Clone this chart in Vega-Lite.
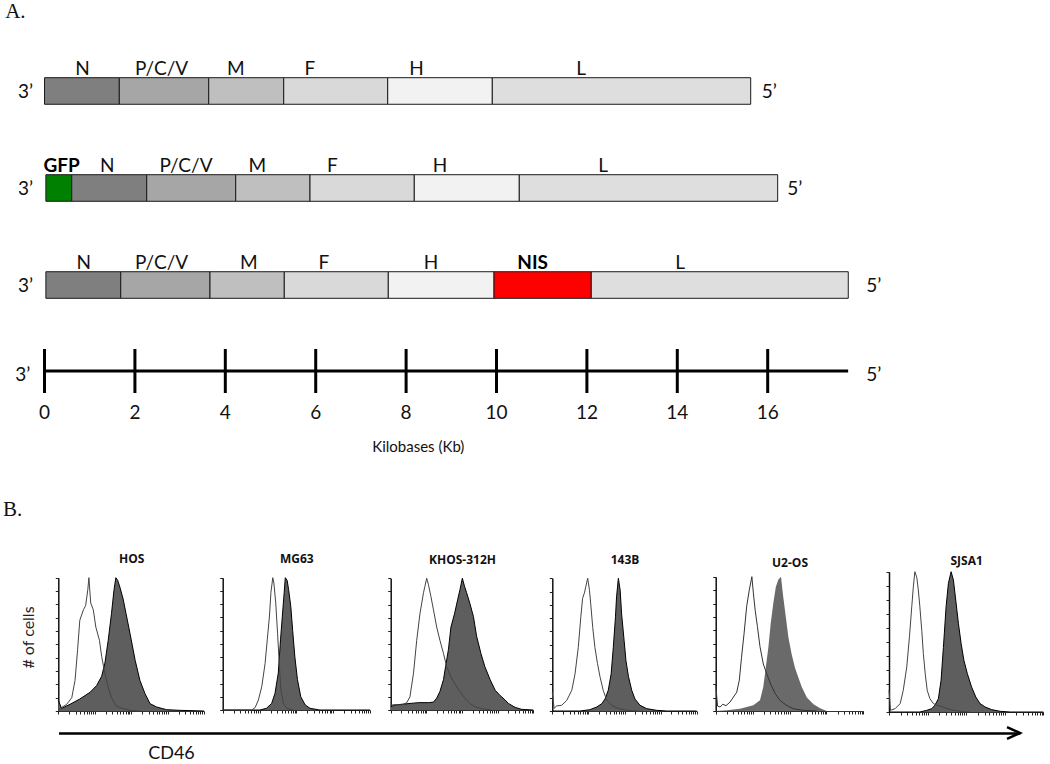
{
  "$schema": "https://vega.github.io/schema/vega-lite/v6.json",
  "width": 1050,
  "height": 764,
  "autosize": "none",
  "padding": 0,
  "background": "white",
  "config": {"view": {"stroke": null}, "text": {"font": "Lato", "color": "#111"}},
  "resolve": {
    "scale": {"x": "independent", "y": "independent", "color": "independent"},
    "axis": {"x": "independent", "y": "independent"}
  },
  "datasets": {
    "segments": [
      {"construct": "MV", "gene": "N", "start": 0, "end": 1.655},
      {"construct": "MV", "gene": "P/C/V", "start": 1.655, "end": 3.633},
      {"construct": "MV", "gene": "M", "start": 3.633, "end": 5.292},
      {"construct": "MV", "gene": "F", "start": 5.292, "end": 7.593},
      {"construct": "MV", "gene": "H", "start": 7.593, "end": 9.907},
      {"construct": "MV", "gene": "L", "start": 9.907, "end": 15.624},
      {"construct": "MV-GFP", "gene": "GFP", "start": 0.03, "end": 0.602},
      {"construct": "MV-GFP", "gene": "N", "start": 0.602, "end": 2.261},
      {"construct": "MV-GFP", "gene": "P/C/V", "start": 2.261, "end": 4.23},
      {"construct": "MV-GFP", "gene": "M", "start": 4.23, "end": 5.874},
      {"construct": "MV-GFP", "gene": "F", "start": 5.874, "end": 8.181},
      {"construct": "MV-GFP", "gene": "H", "start": 8.181, "end": 10.504},
      {"construct": "MV-GFP", "gene": "L", "start": 10.504, "end": 16.221},
      {"construct": "MV-NIS", "gene": "N", "start": 0.03, "end": 1.686},
      {"construct": "MV-NIS", "gene": "P/C/V", "start": 1.686, "end": 3.661},
      {"construct": "MV-NIS", "gene": "M", "start": 3.661, "end": 5.305},
      {"construct": "MV-NIS", "gene": "F", "start": 5.305, "end": 7.606},
      {"construct": "MV-NIS", "gene": "H", "start": 7.606, "end": 9.945},
      {"construct": "MV-NIS", "gene": "NIS", "start": 9.945, "end": 12.097},
      {"construct": "MV-NIS", "gene": "L", "start": 12.097, "end": 17.783}
    ],
    "geneLabels": [
      {"construct": "MV", "gene": "N", "kb": 0.84},
      {"construct": "MV", "gene": "P/C/V", "kb": 2.59},
      {"construct": "MV", "gene": "M", "kb": 4.23},
      {"construct": "MV", "gene": "F", "kb": 5.87},
      {"construct": "MV", "gene": "H", "kb": 8.23},
      {"construct": "MV", "gene": "L", "kb": 11.87},
      {"construct": "MV-GFP", "gene": "GFP", "kb": 0.38},
      {"construct": "MV-GFP", "gene": "N", "kb": 1.39},
      {"construct": "MV-GFP", "gene": "P/C/V", "kb": 3.13},
      {"construct": "MV-GFP", "gene": "M", "kb": 4.71},
      {"construct": "MV-GFP", "gene": "F", "kb": 6.37},
      {"construct": "MV-GFP", "gene": "H", "kb": 8.75},
      {"construct": "MV-GFP", "gene": "L", "kb": 12.36},
      {"construct": "MV-NIS", "gene": "N", "kb": 0.87},
      {"construct": "MV-NIS", "gene": "P/C/V", "kb": 2.59},
      {"construct": "MV-NIS", "gene": "M", "kb": 4.52},
      {"construct": "MV-NIS", "gene": "F", "kb": 6.18},
      {"construct": "MV-NIS", "gene": "H", "kb": 8.55},
      {"construct": "MV-NIS", "gene": "NIS", "kb": 10.8},
      {"construct": "MV-NIS", "gene": "L", "kb": 14.06}
    ],
    "ends": [
      {"construct": "MV", "end": "3’", "kb": -0.586},
      {"construct": "MV", "end": "5’", "kb": 15.87},
      {"construct": "MV-GFP", "end": "3’", "kb": -0.586},
      {"construct": "MV-GFP", "end": "5’", "kb": 16.43},
      {"construct": "MV-NIS", "end": "3’", "kb": -0.586},
      {"construct": "MV-NIS", "end": "5’", "kb": 18.18}
    ],
    "flow": [
      {"cell":"HOS","stain":"CD46","logFL":0,"pct":8},{"cell":"HOS","stain":"CD46","logFL":0.09,"pct":2},{"cell":"HOS","stain":"CD46","logFL":0.32,"pct":5},{"cell":"HOS","stain":"CD46","logFL":0.59,"pct":9},{"cell":"HOS","stain":"CD46","logFL":0.87,"pct":14},{"cell":"HOS","stain":"CD46","logFL":1.05,"pct":19},{"cell":"HOS","stain":"CD46","logFL":1.19,"pct":26},{"cell":"HOS","stain":"CD46","logFL":1.28,"pct":36},{"cell":"HOS","stain":"CD46","logFL":1.37,"pct":53},{"cell":"HOS","stain":"CD46","logFL":1.46,"pct":73},{"cell":"HOS","stain":"CD46","logFL":1.53,"pct":91},{"cell":"HOS","stain":"CD46","logFL":1.58,"pct":100},{"cell":"HOS","stain":"CD46","logFL":1.63,"pct":98},{"cell":"HOS","stain":"CD46","logFL":1.69,"pct":93},{"cell":"HOS","stain":"CD46","logFL":1.78,"pct":84},{"cell":"HOS","stain":"CD46","logFL":1.86,"pct":73},{"cell":"HOS","stain":"CD46","logFL":1.97,"pct":58},{"cell":"HOS","stain":"CD46","logFL":2.11,"pct":38},{"cell":"HOS","stain":"CD46","logFL":2.24,"pct":23},{"cell":"HOS","stain":"CD46","logFL":2.38,"pct":13},{"cell":"HOS","stain":"CD46","logFL":2.52,"pct":5.5},{"cell":"HOS","stain":"CD46","logFL":2.7,"pct":3},{"cell":"HOS","stain":"CD46","logFL":2.97,"pct":1},{"cell":"HOS","stain":"CD46","logFL":3.34,"pct":0.5},{"cell":"HOS","stain":"CD46","logFL":4,"pct":0},
      {"cell":"HOS","stain":"Isotype","logFL":0,"pct":0},{"cell":"HOS","stain":"Isotype","logFL":0.05,"pct":2},{"cell":"HOS","stain":"Isotype","logFL":0.23,"pct":5},{"cell":"HOS","stain":"Isotype","logFL":0.37,"pct":10},{"cell":"HOS","stain":"Isotype","logFL":0.46,"pct":23},{"cell":"HOS","stain":"Isotype","logFL":0.53,"pct":46},{"cell":"HOS","stain":"Isotype","logFL":0.59,"pct":68},{"cell":"HOS","stain":"Isotype","logFL":0.69,"pct":76},{"cell":"HOS","stain":"Isotype","logFL":0.75,"pct":79},{"cell":"HOS","stain":"Isotype","logFL":0.81,"pct":91},{"cell":"HOS","stain":"Isotype","logFL":0.84,"pct":100},{"cell":"HOS","stain":"Isotype","logFL":0.89,"pct":81},{"cell":"HOS","stain":"Isotype","logFL":0.96,"pct":76},{"cell":"HOS","stain":"Isotype","logFL":1.03,"pct":63},{"cell":"HOS","stain":"Isotype","logFL":1.13,"pct":53},{"cell":"HOS","stain":"Isotype","logFL":1.19,"pct":41},{"cell":"HOS","stain":"Isotype","logFL":1.28,"pct":28},{"cell":"HOS","stain":"Isotype","logFL":1.37,"pct":18},{"cell":"HOS","stain":"Isotype","logFL":1.46,"pct":10},{"cell":"HOS","stain":"Isotype","logFL":1.58,"pct":4},{"cell":"HOS","stain":"Isotype","logFL":1.74,"pct":2},{"cell":"HOS","stain":"Isotype","logFL":1.97,"pct":0.5},{"cell":"HOS","stain":"Isotype","logFL":2.24,"pct":0},
      {"cell":"MG63","stain":"CD46","logFL":0,"pct":0},{"cell":"MG63","stain":"CD46","logFL":1.01,"pct":0},{"cell":"MG63","stain":"CD46","logFL":1.19,"pct":1.3},{"cell":"MG63","stain":"CD46","logFL":1.33,"pct":5},{"cell":"MG63","stain":"CD46","logFL":1.42,"pct":12.6},{"cell":"MG63","stain":"CD46","logFL":1.51,"pct":28},{"cell":"MG63","stain":"CD46","logFL":1.57,"pct":53},{"cell":"MG63","stain":"CD46","logFL":1.62,"pct":71},{"cell":"MG63","stain":"CD46","logFL":1.67,"pct":89},{"cell":"MG63","stain":"CD46","logFL":1.7,"pct":100},{"cell":"MG63","stain":"CD46","logFL":1.75,"pct":98},{"cell":"MG63","stain":"CD46","logFL":1.79,"pct":91},{"cell":"MG63","stain":"CD46","logFL":1.85,"pct":78},{"cell":"MG63","stain":"CD46","logFL":1.9,"pct":60},{"cell":"MG63","stain":"CD46","logFL":1.96,"pct":40},{"cell":"MG63","stain":"CD46","logFL":2.03,"pct":23},{"cell":"MG63","stain":"CD46","logFL":2.12,"pct":10},{"cell":"MG63","stain":"CD46","logFL":2.24,"pct":3.8},{"cell":"MG63","stain":"CD46","logFL":2.37,"pct":1.3},{"cell":"MG63","stain":"CD46","logFL":2.64,"pct":0},{"cell":"MG63","stain":"CD46","logFL":4,"pct":0},
      {"cell":"MG63","stain":"Isotype","logFL":0,"pct":0},{"cell":"MG63","stain":"Isotype","logFL":0.79,"pct":0},{"cell":"MG63","stain":"Isotype","logFL":0.88,"pct":1.8},{"cell":"MG63","stain":"Isotype","logFL":0.97,"pct":7.6},{"cell":"MG63","stain":"Isotype","logFL":1.06,"pct":17.6},{"cell":"MG63","stain":"Isotype","logFL":1.15,"pct":35},{"cell":"MG63","stain":"Isotype","logFL":1.21,"pct":53},{"cell":"MG63","stain":"Isotype","logFL":1.27,"pct":71},{"cell":"MG63","stain":"Isotype","logFL":1.31,"pct":89},{"cell":"MG63","stain":"Isotype","logFL":1.36,"pct":100},{"cell":"MG63","stain":"Isotype","logFL":1.39,"pct":96},{"cell":"MG63","stain":"Isotype","logFL":1.44,"pct":81},{"cell":"MG63","stain":"Isotype","logFL":1.49,"pct":58},{"cell":"MG63","stain":"Isotype","logFL":1.54,"pct":33},{"cell":"MG63","stain":"Isotype","logFL":1.58,"pct":15},{"cell":"MG63","stain":"Isotype","logFL":1.65,"pct":5},{"cell":"MG63","stain":"Isotype","logFL":1.74,"pct":1.3},{"cell":"MG63","stain":"Isotype","logFL":1.92,"pct":0},
      {"cell":"KHOS-312H","stain":"CD46","logFL":0,"pct":2.5},{"cell":"KHOS-312H","stain":"CD46","logFL":0.12,"pct":3.8},{"cell":"KHOS-312H","stain":"CD46","logFL":0.4,"pct":4.6},{"cell":"KHOS-312H","stain":"CD46","logFL":0.78,"pct":5.6},{"cell":"KHOS-312H","stain":"CD46","logFL":1.06,"pct":5.6},{"cell":"KHOS-312H","stain":"CD46","logFL":1.2,"pct":6},{"cell":"KHOS-312H","stain":"CD46","logFL":1.29,"pct":9},{"cell":"KHOS-312H","stain":"CD46","logFL":1.38,"pct":14},{"cell":"KHOS-312H","stain":"CD46","logFL":1.48,"pct":23},{"cell":"KHOS-312H","stain":"CD46","logFL":1.54,"pct":33},{"cell":"KHOS-312H","stain":"CD46","logFL":1.62,"pct":46},{"cell":"KHOS-312H","stain":"CD46","logFL":1.69,"pct":63},{"cell":"KHOS-312H","stain":"CD46","logFL":1.79,"pct":73},{"cell":"KHOS-312H","stain":"CD46","logFL":1.88,"pct":84},{"cell":"KHOS-312H","stain":"CD46","logFL":1.94,"pct":91},{"cell":"KHOS-312H","stain":"CD46","logFL":2.01,"pct":100},{"cell":"KHOS-312H","stain":"CD46","logFL":2.07,"pct":94},{"cell":"KHOS-312H","stain":"CD46","logFL":2.13,"pct":89},{"cell":"KHOS-312H","stain":"CD46","logFL":2.22,"pct":81},{"cell":"KHOS-312H","stain":"CD46","logFL":2.32,"pct":71},{"cell":"KHOS-312H","stain":"CD46","logFL":2.41,"pct":56},{"cell":"KHOS-312H","stain":"CD46","logFL":2.53,"pct":43},{"cell":"KHOS-312H","stain":"CD46","logFL":2.64,"pct":33},{"cell":"KHOS-312H","stain":"CD46","logFL":2.79,"pct":23},{"cell":"KHOS-312H","stain":"CD46","logFL":2.93,"pct":15},{"cell":"KHOS-312H","stain":"CD46","logFL":3.07,"pct":11},{"cell":"KHOS-312H","stain":"CD46","logFL":3.21,"pct":7.6},{"cell":"KHOS-312H","stain":"CD46","logFL":3.3,"pct":5},{"cell":"KHOS-312H","stain":"CD46","logFL":3.49,"pct":2},{"cell":"KHOS-312H","stain":"CD46","logFL":3.67,"pct":0.5},{"cell":"KHOS-312H","stain":"CD46","logFL":4,"pct":0},
      {"cell":"KHOS-312H","stain":"Isotype","logFL":0,"pct":3.8},{"cell":"KHOS-312H","stain":"Isotype","logFL":0.12,"pct":4},{"cell":"KHOS-312H","stain":"Isotype","logFL":0.31,"pct":3.8},{"cell":"KHOS-312H","stain":"Isotype","logFL":0.45,"pct":5.6},{"cell":"KHOS-312H","stain":"Isotype","logFL":0.54,"pct":10},{"cell":"KHOS-312H","stain":"Isotype","logFL":0.64,"pct":28},{"cell":"KHOS-312H","stain":"Isotype","logFL":0.73,"pct":53},{"cell":"KHOS-312H","stain":"Isotype","logFL":0.82,"pct":73},{"cell":"KHOS-312H","stain":"Isotype","logFL":0.92,"pct":89},{"cell":"KHOS-312H","stain":"Isotype","logFL":0.96,"pct":94},{"cell":"KHOS-312H","stain":"Isotype","logFL":1.01,"pct":100},{"cell":"KHOS-312H","stain":"Isotype","logFL":1.06,"pct":95},{"cell":"KHOS-312H","stain":"Isotype","logFL":1.13,"pct":86},{"cell":"KHOS-312H","stain":"Isotype","logFL":1.2,"pct":76},{"cell":"KHOS-312H","stain":"Isotype","logFL":1.29,"pct":63},{"cell":"KHOS-312H","stain":"Isotype","logFL":1.38,"pct":53},{"cell":"KHOS-312H","stain":"Isotype","logFL":1.48,"pct":43},{"cell":"KHOS-312H","stain":"Isotype","logFL":1.57,"pct":33},{"cell":"KHOS-312H","stain":"Isotype","logFL":1.69,"pct":25},{"cell":"KHOS-312H","stain":"Isotype","logFL":1.8,"pct":20},{"cell":"KHOS-312H","stain":"Isotype","logFL":1.94,"pct":14},{"cell":"KHOS-312H","stain":"Isotype","logFL":2.08,"pct":9},{"cell":"KHOS-312H","stain":"Isotype","logFL":2.22,"pct":5},{"cell":"KHOS-312H","stain":"Isotype","logFL":2.36,"pct":2.5},{"cell":"KHOS-312H","stain":"Isotype","logFL":2.55,"pct":1},{"cell":"KHOS-312H","stain":"Isotype","logFL":2.83,"pct":0},
      {"cell":"143B","stain":"CD46","logFL":0,"pct":0},{"cell":"143B","stain":"CD46","logFL":0.77,"pct":0},{"cell":"143B","stain":"CD46","logFL":1.04,"pct":1},{"cell":"143B","stain":"CD46","logFL":1.23,"pct":3},{"cell":"143B","stain":"CD46","logFL":1.37,"pct":5.5},{"cell":"143B","stain":"CD46","logFL":1.46,"pct":9},{"cell":"143B","stain":"CD46","logFL":1.55,"pct":15.6},{"cell":"143B","stain":"CD46","logFL":1.63,"pct":28},{"cell":"143B","stain":"CD46","logFL":1.69,"pct":48},{"cell":"143B","stain":"CD46","logFL":1.75,"pct":71},{"cell":"143B","stain":"CD46","logFL":1.78,"pct":86},{"cell":"143B","stain":"CD46","logFL":1.83,"pct":100},{"cell":"143B","stain":"CD46","logFL":1.88,"pct":91},{"cell":"143B","stain":"CD46","logFL":1.92,"pct":73},{"cell":"143B","stain":"CD46","logFL":1.99,"pct":53},{"cell":"143B","stain":"CD46","logFL":2.04,"pct":38},{"cell":"143B","stain":"CD46","logFL":2.11,"pct":26},{"cell":"143B","stain":"CD46","logFL":2.2,"pct":15.6},{"cell":"143B","stain":"CD46","logFL":2.29,"pct":9},{"cell":"143B","stain":"CD46","logFL":2.43,"pct":4.3},{"cell":"143B","stain":"CD46","logFL":2.61,"pct":1.8},{"cell":"143B","stain":"CD46","logFL":2.89,"pct":0.5},{"cell":"143B","stain":"CD46","logFL":3.17,"pct":0},{"cell":"143B","stain":"CD46","logFL":4,"pct":0},
      {"cell":"143B","stain":"Isotype","logFL":0,"pct":14},{"cell":"143B","stain":"Isotype","logFL":0.05,"pct":2},{"cell":"143B","stain":"Isotype","logFL":0.12,"pct":3.8},{"cell":"143B","stain":"Isotype","logFL":0.26,"pct":4.3},{"cell":"143B","stain":"Isotype","logFL":0.4,"pct":8},{"cell":"143B","stain":"Isotype","logFL":0.54,"pct":15.6},{"cell":"143B","stain":"Isotype","logFL":0.63,"pct":28},{"cell":"143B","stain":"Isotype","logFL":0.72,"pct":48},{"cell":"143B","stain":"Isotype","logFL":0.79,"pct":71},{"cell":"143B","stain":"Isotype","logFL":0.84,"pct":85},{"cell":"143B","stain":"Isotype","logFL":0.89,"pct":89},{"cell":"143B","stain":"Isotype","logFL":0.93,"pct":94},{"cell":"143B","stain":"Isotype","logFL":0.98,"pct":100},{"cell":"143B","stain":"Isotype","logFL":1.03,"pct":91},{"cell":"143B","stain":"Isotype","logFL":1.07,"pct":79},{"cell":"143B","stain":"Isotype","logFL":1.12,"pct":63},{"cell":"143B","stain":"Isotype","logFL":1.18,"pct":48},{"cell":"143B","stain":"Isotype","logFL":1.25,"pct":36},{"cell":"143B","stain":"Isotype","logFL":1.32,"pct":26},{"cell":"143B","stain":"Isotype","logFL":1.41,"pct":15.6},{"cell":"143B","stain":"Isotype","logFL":1.51,"pct":8},{"cell":"143B","stain":"Isotype","logFL":1.64,"pct":4.3},{"cell":"143B","stain":"Isotype","logFL":1.83,"pct":1.8},{"cell":"143B","stain":"Isotype","logFL":2.06,"pct":0.5},{"cell":"143B","stain":"Isotype","logFL":2.43,"pct":0},
      {"cell":"U2-OS","stain":"CD46","logFL":0,"pct":0},{"cell":"U2-OS","stain":"CD46","logFL":0.3,"pct":0.5},{"cell":"U2-OS","stain":"CD46","logFL":0.66,"pct":1.7},{"cell":"U2-OS","stain":"CD46","logFL":1.02,"pct":4.2},{"cell":"U2-OS","stain":"CD46","logFL":1.2,"pct":8},{"cell":"U2-OS","stain":"CD46","logFL":1.29,"pct":18},{"cell":"U2-OS","stain":"CD46","logFL":1.36,"pct":33},{"cell":"U2-OS","stain":"CD46","logFL":1.43,"pct":48},{"cell":"U2-OS","stain":"CD46","logFL":1.49,"pct":65},{"cell":"U2-OS","stain":"CD46","logFL":1.56,"pct":80},{"cell":"U2-OS","stain":"CD46","logFL":1.63,"pct":92.5},{"cell":"U2-OS","stain":"CD46","logFL":1.7,"pct":98},{"cell":"U2-OS","stain":"CD46","logFL":1.77,"pct":100},{"cell":"U2-OS","stain":"CD46","logFL":1.83,"pct":85},{"cell":"U2-OS","stain":"CD46","logFL":1.91,"pct":68},{"cell":"U2-OS","stain":"CD46","logFL":1.97,"pct":55},{"cell":"U2-OS","stain":"CD46","logFL":2.06,"pct":42},{"cell":"U2-OS","stain":"CD46","logFL":2.15,"pct":32},{"cell":"U2-OS","stain":"CD46","logFL":2.24,"pct":25},{"cell":"U2-OS","stain":"CD46","logFL":2.33,"pct":18},{"cell":"U2-OS","stain":"CD46","logFL":2.47,"pct":10},{"cell":"U2-OS","stain":"CD46","logFL":2.65,"pct":5},{"cell":"U2-OS","stain":"CD46","logFL":2.83,"pct":2},{"cell":"U2-OS","stain":"CD46","logFL":3.01,"pct":0},{"cell":"U2-OS","stain":"CD46","logFL":4,"pct":0},
      {"cell":"U2-OS","stain":"Isotype","logFL":0,"pct":20},{"cell":"U2-OS","stain":"Isotype","logFL":0.05,"pct":3.7},{"cell":"U2-OS","stain":"Isotype","logFL":0.12,"pct":3},{"cell":"U2-OS","stain":"Isotype","logFL":0.19,"pct":5},{"cell":"U2-OS","stain":"Isotype","logFL":0.28,"pct":4},{"cell":"U2-OS","stain":"Isotype","logFL":0.39,"pct":6.7},{"cell":"U2-OS","stain":"Isotype","logFL":0.48,"pct":10.4},{"cell":"U2-OS","stain":"Isotype","logFL":0.57,"pct":14},{"cell":"U2-OS","stain":"Isotype","logFL":0.64,"pct":23},{"cell":"U2-OS","stain":"Isotype","logFL":0.7,"pct":40},{"cell":"U2-OS","stain":"Isotype","logFL":0.77,"pct":58},{"cell":"U2-OS","stain":"Isotype","logFL":0.84,"pct":78},{"cell":"U2-OS","stain":"Isotype","logFL":0.91,"pct":90},{"cell":"U2-OS","stain":"Isotype","logFL":0.98,"pct":100},{"cell":"U2-OS","stain":"Isotype","logFL":1.02,"pct":88},{"cell":"U2-OS","stain":"Isotype","logFL":1.07,"pct":75},{"cell":"U2-OS","stain":"Isotype","logFL":1.13,"pct":63},{"cell":"U2-OS","stain":"Isotype","logFL":1.2,"pct":48},{"cell":"U2-OS","stain":"Isotype","logFL":1.29,"pct":35},{"cell":"U2-OS","stain":"Isotype","logFL":1.38,"pct":28},{"cell":"U2-OS","stain":"Isotype","logFL":1.49,"pct":20},{"cell":"U2-OS","stain":"Isotype","logFL":1.61,"pct":13},{"cell":"U2-OS","stain":"Isotype","logFL":1.74,"pct":8},{"cell":"U2-OS","stain":"Isotype","logFL":1.92,"pct":4.2},{"cell":"U2-OS","stain":"Isotype","logFL":2.1,"pct":1.7},{"cell":"U2-OS","stain":"Isotype","logFL":2.37,"pct":0.5},{"cell":"U2-OS","stain":"Isotype","logFL":2.74,"pct":0},
      {"cell":"SJSA1","stain":"CD46","logFL":0,"pct":0},{"cell":"SJSA1","stain":"CD46","logFL":0.8,"pct":0},{"cell":"SJSA1","stain":"CD46","logFL":0.98,"pct":1.2},{"cell":"SJSA1","stain":"CD46","logFL":1.11,"pct":2.4},{"cell":"SJSA1","stain":"CD46","logFL":1.19,"pct":4.8},{"cell":"SJSA1","stain":"CD46","logFL":1.28,"pct":9.5},{"cell":"SJSA1","stain":"CD46","logFL":1.35,"pct":22.6},{"cell":"SJSA1","stain":"CD46","logFL":1.41,"pct":46},{"cell":"SJSA1","stain":"CD46","logFL":1.48,"pct":75},{"cell":"SJSA1","stain":"CD46","logFL":1.54,"pct":91.7},{"cell":"SJSA1","stain":"CD46","logFL":1.61,"pct":100},{"cell":"SJSA1","stain":"CD46","logFL":1.67,"pct":94},{"cell":"SJSA1","stain":"CD46","logFL":1.73,"pct":79.8},{"cell":"SJSA1","stain":"CD46","logFL":1.8,"pct":63},{"cell":"SJSA1","stain":"CD46","logFL":1.87,"pct":48.8},{"cell":"SJSA1","stain":"CD46","logFL":1.94,"pct":37},{"cell":"SJSA1","stain":"CD46","logFL":2.03,"pct":27.4},{"cell":"SJSA1","stain":"CD46","logFL":2.14,"pct":17.9},{"cell":"SJSA1","stain":"CD46","logFL":2.25,"pct":10.7},{"cell":"SJSA1","stain":"CD46","logFL":2.36,"pct":6},{"cell":"SJSA1","stain":"CD46","logFL":2.49,"pct":3.6},{"cell":"SJSA1","stain":"CD46","logFL":2.66,"pct":1.7},{"cell":"SJSA1","stain":"CD46","logFL":2.88,"pct":0.5},{"cell":"SJSA1","stain":"CD46","logFL":3.14,"pct":0},{"cell":"SJSA1","stain":"CD46","logFL":4,"pct":0},
      {"cell":"SJSA1","stain":"Isotype","logFL":0,"pct":15.5},{"cell":"SJSA1","stain":"Isotype","logFL":0.04,"pct":1.2},{"cell":"SJSA1","stain":"Isotype","logFL":0.16,"pct":2.4},{"cell":"SJSA1","stain":"Isotype","logFL":0.29,"pct":6},{"cell":"SJSA1","stain":"Isotype","logFL":0.37,"pct":15.5},{"cell":"SJSA1","stain":"Isotype","logFL":0.46,"pct":32},{"cell":"SJSA1","stain":"Isotype","logFL":0.53,"pct":53.6},{"cell":"SJSA1","stain":"Isotype","logFL":0.59,"pct":75},{"cell":"SJSA1","stain":"Isotype","logFL":0.63,"pct":89},{"cell":"SJSA1","stain":"Isotype","logFL":0.67,"pct":100},{"cell":"SJSA1","stain":"Isotype","logFL":0.72,"pct":96},{"cell":"SJSA1","stain":"Isotype","logFL":0.76,"pct":87},{"cell":"SJSA1","stain":"Isotype","logFL":0.8,"pct":75},{"cell":"SJSA1","stain":"Isotype","logFL":0.85,"pct":58},{"cell":"SJSA1","stain":"Isotype","logFL":0.89,"pct":41.7},{"cell":"SJSA1","stain":"Isotype","logFL":0.94,"pct":27},{"cell":"SJSA1","stain":"Isotype","logFL":0.99,"pct":15.5},{"cell":"SJSA1","stain":"Isotype","logFL":1.06,"pct":9.5},{"cell":"SJSA1","stain":"Isotype","logFL":1.15,"pct":6},{"cell":"SJSA1","stain":"Isotype","logFL":1.24,"pct":4.8},{"cell":"SJSA1","stain":"Isotype","logFL":1.32,"pct":4.3},{"cell":"SJSA1","stain":"Isotype","logFL":1.45,"pct":3},{"cell":"SJSA1","stain":"Isotype","logFL":1.62,"pct":1.5},{"cell":"SJSA1","stain":"Isotype","logFL":1.84,"pct":0.5},{"cell":"SJSA1","stain":"Isotype","logFL":2.1,"pct":0}
    ]
  },
  "layer": [
    {
      "data": {"values": [{"letter": "A.", "kb": -0.87}, {"letter": "B.", "kb": -0.92}]},
      "mark": {"type": "text", "font": "Liberation Serif", "fontSize": 21, "align": "left", "baseline": "middle", "color": "#111"},
      "encoding": {
        "x": {"field": "kb", "type": "quantitative", "scale": {"domain": [-0.985, 22.246], "nice": false, "zero": false}, "axis": null},
        "y": {"field": "letter", "type": "nominal", "scale": {"type": "point", "domain": ["A.", "B."], "range": [12, 510], "padding": 0}, "axis": null},
        "text": {"field": "letter"}
      }
    },
    {
      "layer": [
        {
          "data": {"name": "segments"},
          "mark": {"type": "bar", "stroke": "#1a1a1a", "strokeWidth": 1},
          "encoding": {
            "x": {"field": "start", "type": "quantitative", "scale": {"domain": [-0.985, 22.246], "nice": false, "zero": false}, "axis": null},
            "x2": {"field": "end"},
            "y": {"field": "construct", "type": "nominal", "scale": {"type": "band", "domain": ["MV", "MV-GFP", "MV-NIS"], "range": [77.7, 298.3], "paddingInner": 0.726, "paddingOuter": 0}, "axis": null},
            "color": {"field": "gene", "type": "nominal", "legend": null,
              "scale": {"domain": ["GFP", "N", "P/C/V", "M", "F", "H", "NIS", "L"], "range": ["#008000", "#7f7f7f", "#a6a6a6", "#bfbfbf", "#d9d9d9", "#f2f2f2", "#ff0000", "#dedede"]}}
          }
        },
        {
          "data": {"name": "geneLabels"},
          "transform": [{"filter": "datum.gene !== 'GFP' && datum.gene !== 'NIS'"}],
          "mark": {"type": "text", "fontSize": 19, "align": "center", "baseline": "alphabetic", "dy": -16, "color": "#111"},
          "encoding": {
            "x": {"field": "kb", "type": "quantitative"},
            "y": {"field": "construct", "type": "nominal"},
            "text": {"field": "gene"}
          }
        },
        {
          "data": {"name": "geneLabels"},
          "transform": [{"filter": "datum.gene === 'GFP' || datum.gene === 'NIS'"}],
          "mark": {"type": "text", "fontSize": 19, "fontWeight": "bold", "align": "center", "baseline": "alphabetic", "dy": -16, "color": "#000"},
          "encoding": {
            "x": {"field": "kb", "type": "quantitative"},
            "y": {"field": "construct", "type": "nominal"},
            "text": {"field": "gene"}
          }
        },
        {
          "data": {"name": "ends"},
          "mark": {"type": "text", "fontSize": 19, "align": "left", "baseline": "middle", "dy": 1, "color": "#111"},
          "encoding": {
            "x": {"field": "kb", "type": "quantitative"},
            "y": {"field": "construct", "type": "nominal"},
            "text": {"field": "end"}
          }
        }
      ]
    },
    {
      "layer": [
        {
          "data": {"values": [{"row": "ruler", "start": 0, "end": 17.78}]},
          "mark": {"type": "rule", "strokeWidth": 3, "color": "#000"},
          "encoding": {
            "x": {"field": "start", "type": "quantitative", "scale": {"domain": [-0.985, 22.246], "nice": false, "zero": false}, "axis": null},
            "x2": {"field": "end"},
            "y": {"field": "row", "type": "nominal", "scale": {"type": "point", "domain": ["ruler"], "range": [371, 371]}, "axis": null}
          }
        },
        {
          "data": {"values": [{"row": "ruler", "kb": 0}, {"row": "ruler", "kb": 2}, {"row": "ruler", "kb": 4}, {"row": "ruler", "kb": 6}, {"row": "ruler", "kb": 8}, {"row": "ruler", "kb": 10}, {"row": "ruler", "kb": 12}, {"row": "ruler", "kb": 14}, {"row": "ruler", "kb": 16}]},
          "layer": [
            {
              "mark": {"type": "tick", "size": 44, "thickness": 3, "color": "#000", "opacity": 1},
              "encoding": {
                "x": {"field": "kb", "type": "quantitative"},
                "y": {"field": "row", "type": "nominal"}
              }
            },
            {
              "mark": {"type": "text", "fontSize": 19, "align": "center", "baseline": "middle", "dy": 42, "color": "#111"},
              "encoding": {
                "x": {"field": "kb", "type": "quantitative"},
                "y": {"field": "row", "type": "nominal"},
                "text": {"field": "kb", "type": "quantitative"}
              }
            }
          ]
        },
        {
          "data": {"values": [{"row": "ruler", "label": "Kilobases (Kb)", "kb": 8.27}]},
          "mark": {"type": "text", "fontSize": 15, "align": "center", "baseline": "middle", "dy": 76, "color": "#111"},
          "encoding": {
            "x": {"field": "kb", "type": "quantitative"},
            "y": {"field": "row", "type": "nominal"},
            "text": {"field": "label"}
          }
        },
        {
          "data": {"values": [{"row": "ruler", "end": "3’", "kb": -0.65}, {"row": "ruler", "end": "5’", "kb": 18.18}]},
          "mark": {"type": "text", "fontSize": 19, "align": "left", "baseline": "middle", "dy": 4, "color": "#111"},
          "encoding": {
            "x": {"field": "kb", "type": "quantitative"},
            "y": {"field": "row", "type": "nominal"},
            "text": {"field": "end"}
          }
        }
      ]
    },
    {
      "data": {"name": "flow"},
      "transform": [{"filter": "datum.cell === 'HOS'"}],
      "encoding": {
        "x": {"field": "logFL", "type": "quantitative", "scale": {"domain": [0, 4], "range": [58.3, 204], "nice": false, "zero": false},
          "axis": {"orient": "bottom", "offset": -53, "values": [0,0.301,0.477,0.602,0.699,0.778,0.845,0.903,0.954,1,1.301,1.477,1.602,1.699,1.778,1.845,1.903,1.954,2,2.301,2.477,2.602,2.699,2.778,2.845,2.903,2.954,3,3.301,3.477,3.602,3.699,3.778,3.845,3.903,3.954,4], "labels": false, "grid": false, "tickSize": 3, "tickColor": "#222", "domainColor": "#333", "title": "HOS", "titleY": -153, "titleBaseline": "middle", "titleFont": "Open Sans", "titleFontSize": 12, "titleFontWeight": "bold", "titleColor": "#111"}},
        "y": {"field": "pct", "type": "quantitative", "scale": {"domain": [0, 100], "range": [711, 577.7], "nice": false, "zero": false},
          "axis": {"orient": "left", "offset": -58.3, "values": [0,10,20,30,40,50,60,70,80,90,100], "labels": false, "grid": false, "tickSize": 3, "tickColor": "#222", "domainColor": "#111", "domainWidth": 1.5, "title": "# of cells", "titleX": -30, "titleY": 637, "titleAngle": -90, "titleAlign": "center", "titleBaseline": "middle", "titleFont": "Lato", "titleFontSize": 16, "titleFontWeight": "normal", "titleColor": "#222"}}
      },
      "layer": [
        {"transform": [{"filter": "datum.stain === 'CD46'"}], "mark": {"type": "area", "color": "#5e5e5e", "opacity": 1, "line": {"color": "#000", "strokeWidth": 1}}},
        {"transform": [{"filter": "datum.stain === 'Isotype'"}], "mark": {"type": "line", "color": "#444", "strokeWidth": 1}}
      ]
    },
    {
      "data": {"name": "flow"},
      "transform": [{"filter": "datum.cell === 'MG63'"}],
      "encoding": {
        "x": {"field": "logFL", "type": "quantitative", "scale": {"domain": [0, 4], "range": [222.7, 370], "nice": false, "zero": false},
          "axis": {"orient": "bottom", "offset": -54, "values": [0,0.301,0.477,0.602,0.699,0.778,0.845,0.903,0.954,1,1.301,1.477,1.602,1.699,1.778,1.845,1.903,1.954,2,2.301,2.477,2.602,2.699,2.778,2.845,2.903,2.954,3,3.301,3.477,3.602,3.699,3.778,3.845,3.903,3.954,4], "labels": false, "grid": false, "tickSize": 3, "tickColor": "#222", "domainColor": "#333", "title": "MG63", "titleY": -152, "titleBaseline": "middle", "titleFont": "Open Sans", "titleFontSize": 12, "titleFontWeight": "bold", "titleColor": "#111"}},
        "y": {"field": "pct", "type": "quantitative", "scale": {"domain": [0, 100], "range": [710, 577.7], "nice": false, "zero": false},
          "axis": {"orient": "left", "offset": -222.7, "values": [0,10,20,30,40,50,60,70,80,90,100], "labels": false, "grid": false, "tickSize": 3, "tickColor": "#222", "domainColor": "#111", "domainWidth": 1.5, "title": null}}
      },
      "layer": [
        {"transform": [{"filter": "datum.stain === 'CD46'"}], "mark": {"type": "area", "color": "#5e5e5e", "opacity": 1, "line": {"color": "#000", "strokeWidth": 1}}},
        {"transform": [{"filter": "datum.stain === 'Isotype'"}], "mark": {"type": "line", "color": "#444", "strokeWidth": 1}}
      ]
    },
    {
      "data": {"name": "flow"},
      "transform": [{"filter": "datum.cell === 'KHOS-312H'"}],
      "encoding": {
        "x": {"field": "logFL", "type": "quantitative", "scale": {"domain": [0, 4], "range": [390.7, 533.3], "nice": false, "zero": false},
          "axis": {"orient": "bottom", "offset": -54, "values": [0,0.301,0.477,0.602,0.699,0.778,0.845,0.903,0.954,1,1.301,1.477,1.602,1.699,1.778,1.845,1.903,1.954,2,2.301,2.477,2.602,2.699,2.778,2.845,2.903,2.954,3,3.301,3.477,3.602,3.699,3.778,3.845,3.903,3.954,4], "labels": false, "grid": false, "tickSize": 3, "tickColor": "#222", "domainColor": "#333", "title": "KHOS-312H", "titleY": -151, "titleBaseline": "middle", "titleFont": "Open Sans", "titleFontSize": 12, "titleFontWeight": "bold", "titleColor": "#111"}},
        "y": {"field": "pct", "type": "quantitative", "scale": {"domain": [0, 100], "range": [710, 578.3], "nice": false, "zero": false},
          "axis": {"orient": "left", "offset": -390.7, "values": [0,10,20,30,40,50,60,70,80,90,100], "labels": false, "grid": false, "tickSize": 3, "tickColor": "#222", "domainColor": "#111", "domainWidth": 1.5, "title": null}}
      },
      "layer": [
        {"transform": [{"filter": "datum.stain === 'CD46'"}], "mark": {"type": "area", "color": "#5e5e5e", "opacity": 1, "line": {"color": "#000", "strokeWidth": 1}}},
        {"transform": [{"filter": "datum.stain === 'Isotype'"}], "mark": {"type": "line", "color": "#444", "strokeWidth": 1}}
      ]
    },
    {
      "data": {"name": "flow"},
      "transform": [{"filter": "datum.cell === '143B'"}],
      "encoding": {
        "x": {"field": "logFL", "type": "quantitative", "scale": {"domain": [0, 4], "range": [552.3, 696.7], "nice": false, "zero": false},
          "axis": {"orient": "bottom", "offset": -53, "values": [0,0.301,0.477,0.602,0.699,0.778,0.845,0.903,0.954,1,1.301,1.477,1.602,1.699,1.778,1.845,1.903,1.954,2,2.301,2.477,2.602,2.699,2.778,2.845,2.903,2.954,3,3.301,3.477,3.602,3.699,3.778,3.845,3.903,3.954,4], "labels": false, "grid": false, "tickSize": 3, "tickColor": "#222", "domainColor": "#333", "title": "143B", "titleY": -151.5, "titleBaseline": "middle", "titleFont": "Open Sans", "titleFontSize": 12, "titleFontWeight": "bold", "titleColor": "#111"}},
        "y": {"field": "pct", "type": "quantitative", "scale": {"domain": [0, 100], "range": [711, 578.3], "nice": false, "zero": false},
          "axis": {"orient": "left", "offset": -552.3, "values": [0,10,20,30,40,50,60,70,80,90,100], "labels": false, "grid": false, "tickSize": 3, "tickColor": "#222", "domainColor": "#111", "domainWidth": 1.5, "title": null}}
      },
      "layer": [
        {"transform": [{"filter": "datum.stain === 'CD46'"}], "mark": {"type": "area", "color": "#5e5e5e", "opacity": 1, "line": {"color": "#000", "strokeWidth": 1}}},
        {"transform": [{"filter": "datum.stain === 'Isotype'"}], "mark": {"type": "line", "color": "#444", "strokeWidth": 1}}
      ]
    },
    {
      "data": {"name": "flow"},
      "transform": [{"filter": "datum.cell === 'U2-OS'"}],
      "encoding": {
        "x": {"field": "logFL", "type": "quantitative", "scale": {"domain": [0, 4], "range": [715.7, 863.3], "nice": false, "zero": false},
          "axis": {"orient": "bottom", "offset": -53, "values": [0,0.301,0.477,0.602,0.699,0.778,0.845,0.903,0.954,1,1.301,1.477,1.602,1.699,1.778,1.845,1.903,1.954,2,2.301,2.477,2.602,2.699,2.778,2.845,2.903,2.954,3,3.301,3.477,3.602,3.699,3.778,3.845,3.903,3.954,4], "labels": false, "grid": false, "tickSize": 3, "tickColor": "#222", "domainColor": "#333", "title": "U2-OS", "titleY": -149, "titleBaseline": "middle", "titleFont": "Open Sans", "titleFontSize": 12, "titleFontWeight": "bold", "titleColor": "#111"}},
        "y": {"field": "pct", "type": "quantitative", "scale": {"domain": [0, 100], "range": [711, 576.7], "nice": false, "zero": false},
          "axis": {"orient": "left", "offset": -715.7, "values": [0,10,20,30,40,50,60,70,80,90,100], "labels": false, "grid": false, "tickSize": 3, "tickColor": "#222", "domainColor": "#111", "domainWidth": 1.5, "title": null}}
      },
      "layer": [
        {"transform": [{"filter": "datum.stain === 'CD46'"}], "mark": {"type": "area", "color": "#6a6a6a", "opacity": 1}},
        {"transform": [{"filter": "datum.stain === 'Isotype'"}], "mark": {"type": "line", "color": "#333", "strokeWidth": 1}}
      ]
    },
    {
      "data": {"name": "flow"},
      "transform": [{"filter": "datum.cell === 'SJSA1'"}],
      "encoding": {
        "x": {"field": "logFL", "type": "quantitative", "scale": {"domain": [0, 4], "range": [889, 1043.3], "nice": false, "zero": false},
          "axis": {"orient": "bottom", "offset": -52, "values": [0,0.301,0.477,0.602,0.699,0.778,0.845,0.903,0.954,1,1.301,1.477,1.602,1.699,1.778,1.845,1.903,1.954,2,2.301,2.477,2.602,2.699,2.778,2.845,2.903,2.954,3,3.301,3.477,3.602,3.699,3.778,3.845,3.903,3.954,4], "labels": false, "grid": false, "tickSize": 3, "tickColor": "#222", "domainColor": "#333", "title": "SJSA1", "titleY": -151.5, "titleBaseline": "middle", "titleFont": "Open Sans", "titleFontSize": 12, "titleFontWeight": "bold", "titleColor": "#111"}},
        "y": {"field": "pct", "type": "quantitative", "scale": {"domain": [0, 100], "range": [712, 571.7], "nice": false, "zero": false},
          "axis": {"orient": "left", "offset": -889, "values": [0,10,20,30,40,50,60,70,80,90,100], "labels": false, "grid": false, "tickSize": 3, "tickColor": "#222", "domainColor": "#111", "domainWidth": 1.5, "title": null}}
      },
      "layer": [
        {"transform": [{"filter": "datum.stain === 'CD46'"}], "mark": {"type": "area", "color": "#5e5e5e", "opacity": 1, "line": {"color": "#000", "strokeWidth": 1}}},
        {"transform": [{"filter": "datum.stain === 'Isotype'"}], "mark": {"type": "line", "color": "#444", "strokeWidth": 1}}
      ]
    },
    {
      "data": {"values": [{"axis": "CD46"}]},
      "mark": {"type": "point", "shape": "M-1,-0.45L0,0L-1,0.45", "size": 676, "filled": false, "stroke": "#000", "strokeWidth": 2.5, "opacity": 1},
      "encoding": {
        "x": {"datum": 1, "type": "quantitative", "scale": {"domain": [0, 1], "range": [58.5, 1020], "nice": false, "zero": false},
          "axis": {"orient": "bottom", "offset": -31, "domain": true, "domainColor": "#000", "domainWidth": 2.5, "ticks": false, "labels": false, "grid": false, "title": "CD46", "titleX": 171, "titleY": 20, "titleAlign": "center", "titleBaseline": "middle", "titleFont": "Lato", "titleFontSize": 18, "titleFontWeight": "normal", "titleColor": "#111"}},
        "y": {"field": "axis", "type": "nominal", "scale": {"type": "point", "domain": ["CD46"], "range": [733, 733]}, "axis": null}
      }
    }
  ]
}
